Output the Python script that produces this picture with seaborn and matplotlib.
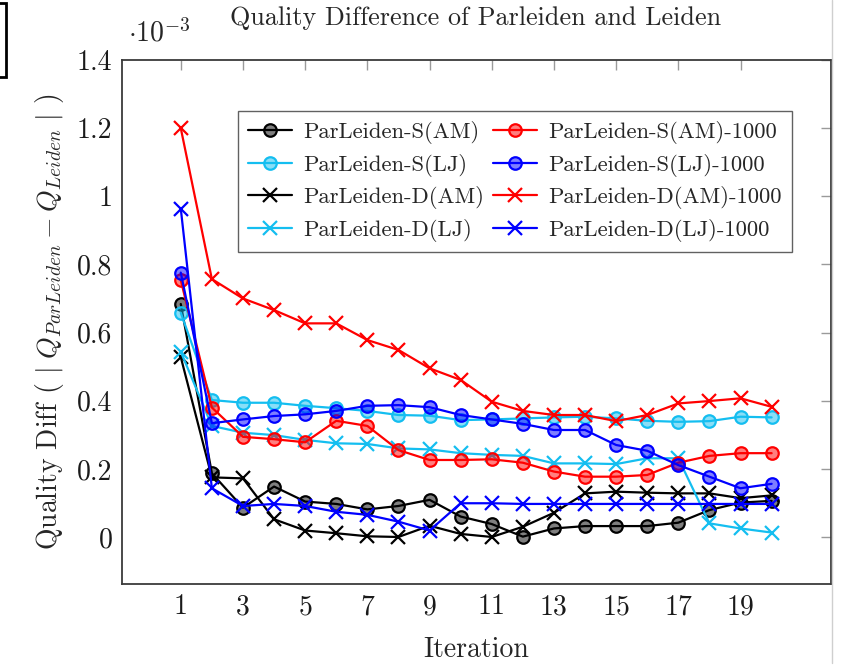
import numpy as np
import pandas as pd
import seaborn as sns
import matplotlib
matplotlib.use("Agg")
import matplotlib.pyplot as plt
from matplotlib.lines import Line2D
from matplotlib.patches import Rectangle
from matplotlib.colors import to_rgba

iterations = list(range(1, 21))

s_am = [0.684, 0.187, 0.086, 0.148, 0.104, 0.097, 0.081, 0.091, 0.109, 0.060,
        0.038, 0.001, 0.025, 0.032, 0.032, 0.032, 0.042, 0.079, 0.101, 0.106]
s_lj = [0.658, 0.402, 0.394, 0.394, 0.385, 0.378, 0.370, 0.358, 0.356, 0.343,
        0.345, 0.348, 0.351, 0.353, 0.348, 0.341, 0.338, 0.340, 0.353, 0.351]
d_am = [0.528, 0.175, 0.172, 0.052, 0.019, 0.011, 0.002, 0.000, 0.033, 0.009,
        0.000, 0.030, 0.071, 0.128, 0.133, 0.130, 0.128, 0.128, 0.114, 0.122]
d_lj = [0.544, 0.326, 0.306, 0.299, 0.285, 0.275, 0.273, 0.260, 0.257, 0.246,
        0.241, 0.238, 0.216, 0.216, 0.214, 0.231, 0.231, 0.040, 0.025, 0.013]
s_am_1000 = [0.754, 0.380, 0.294, 0.287, 0.278, 0.341, 0.326, 0.255, 0.226, 0.226,
             0.228, 0.218, 0.192, 0.177, 0.177, 0.182, 0.218, 0.238, 0.246, 0.246]
s_lj_1000 = [0.776, 0.334, 0.345, 0.355, 0.360, 0.370, 0.385, 0.387, 0.381, 0.358,
             0.345, 0.332, 0.314, 0.314, 0.270, 0.253, 0.211, 0.177, 0.143, 0.156]
d_am_1000 = [1.200, 0.757, 0.700, 0.666, 0.627, 0.627, 0.578, 0.549, 0.495, 0.461,
             0.397, 0.370, 0.358, 0.358, 0.340, 0.358, 0.392, 0.399, 0.407, 0.382]
d_lj_1000 = [0.964, 0.143, 0.091, 0.097, 0.091, 0.074, 0.065, 0.045, 0.019, 0.099,
             0.099, 0.097, 0.097, 0.097, 0.097, 0.097, 0.097, 0.097, 0.097, 0.097]

labels = ["ParLeiden-S(AM)", "ParLeiden-S(LJ)", "ParLeiden-D(AM)", "ParLeiden-D(LJ)",
          "ParLeiden-S(AM)-1000", "ParLeiden-S(LJ)-1000", "ParLeiden-D(AM)-1000", "ParLeiden-D(LJ)-1000"]
series = [s_am, s_lj, d_am, d_lj, s_am_1000, s_lj_1000, d_am_1000, d_lj_1000]

x_ticks = [1, 3, 5, 7, 9, 11, 13, 15, 17, 19]
y_ticks = [0, 0.2, 0.4, 0.6, 0.8, 1.0, 1.2, 1.4]
y_tick_labels = ["0", "0.2", "0.4", "0.6", "0.8", "1", "1.2", "1.4"]

BLACK = "#000000"
CYAN = "#14BEF0"
RED = "#FF0000"
BLUE = "#0000FF"
colors = [BLACK, CYAN, BLACK, CYAN, RED, BLUE, RED, BLUE]
markers = ["o", "o", "x", "x", "o", "o", "x", "x"]

sns.set_style("white")
plt.rcParams["font.family"] = ["cmr10", "DejaVu Serif"]
plt.rcParams["mathtext.fontset"] = "cm"
plt.rcParams["axes.formatter.use_mathtext"] = True
plt.rcParams["axes.unicode_minus"] = False

W, H = 851, 671
fig = plt.figure(figsize=(W / 100, H / 100), dpi=100)
ax = fig.add_axes([122 / W, 1 - 584 / H, (830.7 - 122) / W, (584 - 60) / H])

handles = {}
for lab, vals, col, mk in zip(labels, series, colors, markers):
    df = pd.DataFrame({"Iteration": iterations, "val": vals})
    kws = dict(color=col, linewidth=1.6, marker=mk, markeredgecolor=col)
    if mk == "o":
        fc = to_rgba(col, 0.5)
        kws.update(markersize=9, markerfacecolor=fc, markeredgewidth=1.6)
    else:
        kws.update(markersize=9.5, markeredgewidth=1.6)
    sns.lineplot(data=df, x="Iteration", y="val", ax=ax, label=lab, legend=False, **kws)
    handles[lab] = Line2D([], [], **kws)

ax.set_xlim(-0.89, 21.9)
ax.set_ylim(-0.138, 1.4)
ax.set_xticks(x_ticks)
ax.set_xticklabels([str(t) for t in x_ticks])
ax.set_yticks(y_ticks)
ax.set_yticklabels(y_tick_labels)
ax.tick_params(axis="both", direction="in", length=7, width=1, color="#9a9a9a",
               labelsize=20, top=True, right=True, pad=7, labelcolor="#1a1a1a")
for sp in ax.spines.values():
    sp.set_color("#3a3a3a")
    sp.set_linewidth(1.3)

ax.set_xlabel("Iteration", fontsize=20, labelpad=12)
ax.set_ylabel(r"Quality Diff ( $|\ Q_{ParLeiden} - Q_{Leiden}\ |$ )", fontsize=20, labelpad=8)
fig.text(476 / W, 1 - 18 / H, "Quality Difference of Parleiden and Leiden", fontsize=18.8,
         ha="center", va="center")
fig.text(128 / W, 1 - 33 / H, r"$\cdot 10^{-3}$", fontsize=20, va="center", ha="left")

order = labels
leg = ax.legend([handles[l] for l in order], order, ncol=2, loc="upper left",
                bbox_to_anchor=((238 - 122) / (830.7 - 122), 1 - (111 - 60) / 524),
                fontsize=16.3, frameon=True, fancybox=False, edgecolor="#3a3a3a",
                handlelength=1.95, columnspacing=0.35, handletextpad=0.5,
                labelspacing=0.42, borderpad=0.45, borderaxespad=0)
leg.get_frame().set_linewidth(1.0)

fig.add_artist(Line2D([832 / W, 832 / W], [1 - 663 / H, 1.0], color="#cfcfcf", linewidth=1,
                      transform=fig.transFigure))
fig.add_artist(Rectangle((-20 / W, 1 - 77 / H), 26 / W, 74 / H, transform=fig.transFigure,
                         fill=False, edgecolor="black", linewidth=2))

fig.savefig("out.png", dpi=100)
